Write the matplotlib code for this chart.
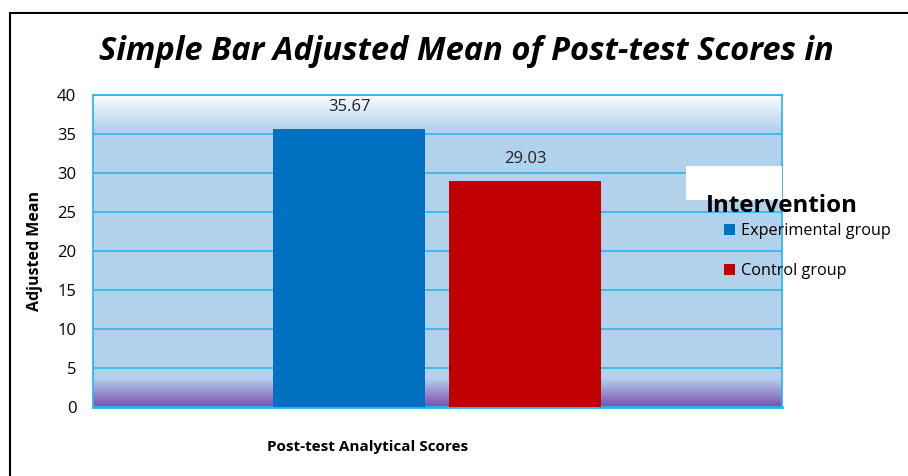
import numpy as np
import matplotlib.pyplot as plt
from matplotlib.patches import Rectangle
from matplotlib.lines import Line2D

groups = ['Experimental group', 'Control group']
means = [35.67, 29.03]
bar_colors = ['#0070c0', '#c00000']
yticks = [0, 5, 10, 15, 20, 25, 30, 35, 40]

plt.rcParams['font.family'] = ['Open Sans', 'DejaVu Sans']

fig = plt.figure(figsize=(9.08, 4.76), dpi=100)
ax = fig.add_axes([93/908, 1-407/476, 689/908, 312/476])

# background gradient: white->light blue at top, purple at bottom
n = 400
yy = np.linspace(0, 40, n)
light = np.array([0.70, 0.82, 0.92])
white = np.array([0.98, 0.99, 1.0])
purple = np.array([0.49, 0.31, 0.69])
img = np.zeros((n, 1, 3))
for i, v in enumerate(yy):
    if v > 35.5:
        t = (v - 35.5) / 4.5
        c = light * (1 - t) + white * t
    elif v < 3.6:
        t = (3.6 - v) / 3.6
        c = light * (1 - t) + purple * t
    else:
        c = light
    img[i, 0] = c
xl = (-1.4545, 2.46)
ax.imshow(img, extent=[xl[0], xl[1], 0, 40], origin='lower', aspect='auto', zorder=0, interpolation='bilinear')

x = np.arange(len(groups))
bars = ax.bar(x, means, width=0.864, color=bar_colors, zorder=3, label=groups)
for xi, m in zip(x, means):
    ax.text(xi, m + 1.75, f'{m:.2f}', ha='center', va='bottom', fontsize=12, color='#222222', zorder=4)

ax.set_xlim(*xl)
ax.set_ylim(0, 40)
ax.set_yticks(yticks)
ax.set_yticklabels([str(t) for t in yticks], fontsize=12)
ax.set_xticks([])
ax.tick_params(axis='y', length=0, pad=12)
ax.yaxis.grid(True, color='#22b4ee', linewidth=1.1, zorder=1)
ax.set_axisbelow(True)
for s in ax.spines.values():
    s.set_color('#22b4ee')
    s.set_linewidth(1.2)
ax.spines['bottom'].set_linewidth(2)
ax.set_ylabel('Adjusted Mean', fontsize=11.5, fontweight='bold', labelpad=10)

fig.text(466/908, 1-51/476, 'Simple Bar Adjusted Mean of Post-test Scores in', ha='center', va='center',
         fontsize=23.5, fontweight='bold', fontstyle='italic')
fig.text(368/908, 1-447/476, 'Post-test Analytical Scores', ha='center', va='center',
         fontsize=11, fontweight='bold')

# white box over the plot edge
fig.patches.append(Rectangle((686/908, 1-200/476), 96/908, 34/476, transform=fig.transFigure,
                             facecolor='white', edgecolor='none', zorder=5))

# legend
fig.text(706/908, 1-206/476, 'Intervention', ha='left', va='center', fontsize=17.4, fontweight='bold', zorder=6)
leg = fig.legend(handles=list(bars), labels=groups, loc='upper left', bbox_to_anchor=(724/908, 1-223/476),
                 frameon=False, fontsize=11.7, handlelength=0.7, handleheight=0.7, handletextpad=0.35,
                 labelspacing=1.5, borderpad=0, borderaxespad=0)
leg.set_zorder(6)

# outer frame
fig.add_artist(Line2D([10/908, 1], [1-13/476, 1-13/476], color='black', linewidth=1.5, transform=fig.transFigure))
fig.add_artist(Line2D([10/908, 10/908], [0, 1-13/476], color='black', linewidth=1.5, transform=fig.transFigure))

fig.savefig('out.png', dpi=100)
